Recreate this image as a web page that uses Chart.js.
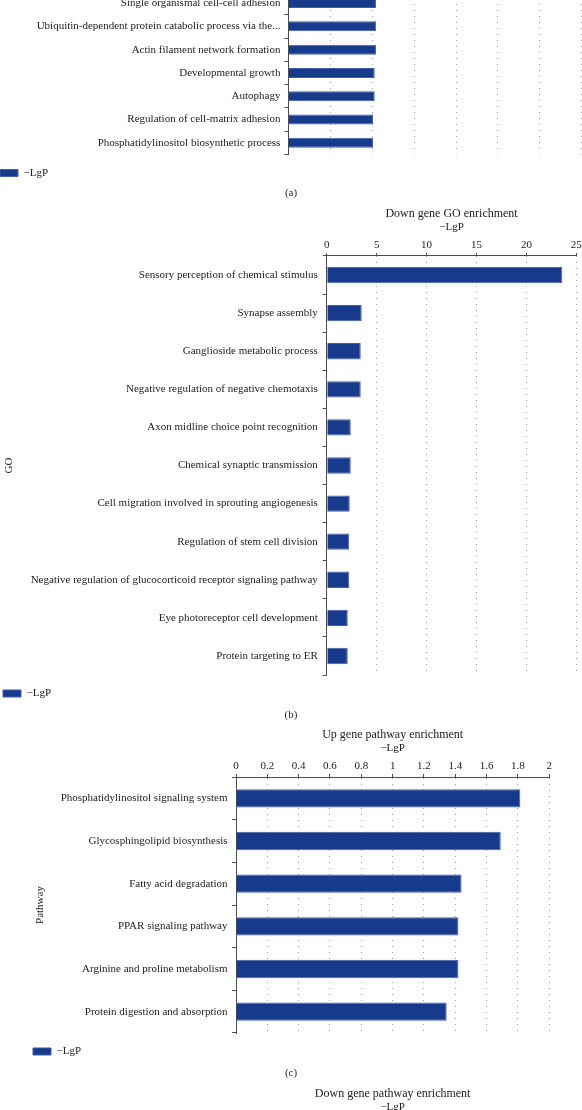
<!DOCTYPE html>
<html>
<head>
<meta charset="utf-8">
<script src="https://cdn.jsdelivr.net/npm/chart.js@4.4.0/dist/chart.umd.min.js"></script>
<style>
  html, body { margin: 0; padding: 0; width: 582px; height: 1110px; overflow: hidden; background: #fff; }
  canvas { position: absolute; }
  .cap { position: absolute; left: 0; width: 582px; height: 14px; line-height: 14px; text-align: center;
         font: 11px "Liberation Serif", serif; color: #2b2b2b; }
</style>
</head>
<body>
<canvas id="chartA"></canvas>
<div class="cap" style="top:186px">(a)</div>
<canvas id="chartB"></canvas>
<div class="cap" style="top:708px">(b)</div>
<canvas id="chartC"></canvas>
<div class="cap" style="top:1066px">(c)</div>
<canvas id="chartD"></canvas>
<script>
// (a) up gene GO enrichment - only the lower rows are inside the picture
const upGoLabels = [
  "Single organismal cell-cell adhesion",
  "Ubiquitin-dependent protein catabolic process via the...",
  "Actin filament network formation",
  "Developmental growth",
  "Autophagy",
  "Regulation of cell-matrix adhesion",
  "Phosphatidylinositol biosynthetic process"
];
const upGoValues = [2.09, 2.09, 2.09, 2.06, 2.06, 2.02, 2.02];
const upGoTicks = [0, 1, 2, 3, 4, 5, 6, 7];

// (b) down gene GO enrichment
const downGoLabels = [
  "Sensory perception of chemical stimulus",
  "Synapse assembly",
  "Ganglioside metabolic process",
  "Negative regulation of negative chemotaxis",
  "Axon midline choice point recognition",
  "Chemical synaptic transmission",
  "Cell migration involved in sprouting angiogenesis",
  "Regulation of stem cell division",
  "Negative regulation of glucocorticoid receptor signaling pathway",
  "Eye photoreceptor cell development",
  "Protein targeting to ER"
];
const downGoValues = [23.6, 3.5, 3.4, 3.4, 2.4, 2.4, 2.3, 2.25, 2.25, 2.1, 2.1];
const downGoTicks = [0, 5, 10, 15, 20, 25];

// (c) up gene pathway enrichment
const upPathLabels = [
  "Phosphatidylinositol signaling system",
  "Glycosphingolipid biosynthesis",
  "Fatty acid degradation",
  "PPAR signaling pathway",
  "Arginine and proline metabolism",
  "Protein digestion and absorption"
];
const upPathValues = [1.815, 1.69, 1.44, 1.42, 1.42, 1.345];
const upPathTicks = [0, 0.2, 0.4, 0.6, 0.8, 1, 1.2, 1.4, 1.6, 1.8, 2];

// (d) down gene pathway enrichment - only its title is inside the picture
const downPathLabels = [];
const downPathValues = [];

const BAR = "#173a8c";
const EDGE = "#3f5fa8";
const INK = "#222";
const AXIS = "#4d4d4d";
const FONT = { family: "'Liberation Serif', serif", size: 11 };
const TITLE_FONT = { family: "'Liberation Serif', serif", size: 12, weight: "normal", lineHeight: 1.1 };

const CANVAS_LEFT = -20;
const CANVAS_W = 622;
const AXIS_H = 35.1;          // height of the top x axis box
const HEAD = 13.2 + AXIS_H;   // title + axis above the plot area
const LEGEND_H = 34;

function makeChart(id, p) {
  var canvas = document.getElementById(id);
  var top = Math.floor(p.areaTop - HEAD);
  var h = Math.ceil(p.areaBottom + LEGEND_H - top);
  canvas.width = CANVAS_W;
  canvas.height = h;
  canvas.style.left = CANVAS_LEFT + "px";
  canvas.style.top = top + "px";

  var padL = p.legendX + 7;
  var padR = CANVAS_LEFT + CANVAS_W - p.areaRight;
  var yWidth = p.areaLeft - (CANVAS_LEFT + padL);

  return new Chart(canvas, {
    type: "bar",
    data: {
      labels: p.labels,
      datasets: [{
        label: "\u2212LgP",
        data: p.values,
        backgroundColor: BAR,
        borderColor: EDGE,
        borderWidth: 1,
        barPercentage: 0.43,
        categoryPercentage: 1
      }]
    },
    options: {
      indexAxis: "y",
      responsive: false,
      animation: false,
      layout: {
        padding: {
          left: padL,
          right: padR,
          top: p.areaTop - HEAD - top,
          bottom: h - (p.areaBottom + LEGEND_H - top)
        }
      },
      plugins: {
        title: { display: true, text: p.title, fullSize: false, padding: 0, font: TITLE_FONT, color: INK },
        legend: {
          position: "bottom",
          align: "start",
          labels: { boxWidth: 18, boxHeight: 7, padding: 13, font: FONT, color: INK }
        },
        tooltip: { enabled: false }
      },
      scales: {
        x: {
          position: "top",
          min: p.ticks.length ? p.ticks[0] : undefined,
          max: p.ticks.length ? p.ticks[p.ticks.length - 1] : undefined,
          afterBuildTicks: function(s) {
            if (p.ticks.length) s.ticks = p.ticks.map(function(v){ return { value: v }; });
          },
          afterFit: function(s) { s.height = AXIS_H; },
          ticks: {
            padding: 1, font: FONT, color: INK,
            callback: function(v) { return String(v); }
          },
          grid: { color: "#9a9a9a", tickColor: AXIS, tickLength: 3, tickBorderDash: [] },
          border: { color: AXIS, width: 1, dash: [1, 5] },
          title: { display: true, text: "\u2212LgP", padding: 0, font: FONT, color: INK }
        },
        y: {
          afterFit: function(s) { s.width = yWidth; },
          ticks: { padding: p.labelPad, font: FONT, color: INK, autoSkip: false },
          grid: { drawOnChartArea: false, tickLength: 4, tickColor: AXIS },
          border: { color: AXIS, width: 1 },
          title: {
            display: !!p.yTitle,
            text: p.yTitle || "",
            padding: { top: p.yTitlePad || 0, bottom: 0 },
            font: FONT,
            color: INK
          }
        }
      }
    }
  });
}

document.addEventListener("DOMContentLoaded", function(){
  makeChart("chartA", {
    labels: upGoLabels, values: upGoValues, ticks: upGoTicks,
    title: "Up gene GO enrichment",
    areaTop: -8.6, areaBottom: 154.5, areaLeft: 288.4, areaRight: 581.7,
    legendX: 0, labelPad: 4
  });
  makeChart("chartB", {
    labels: downGoLabels, values: downGoValues, ticks: downGoTicks,
    title: "Down gene GO enrichment",
    areaTop: 256, areaBottom: 675, areaLeft: 326.8, areaRight: 576.3,
    legendX: 3, labelPad: 5, yTitle: "GO", yTitlePad: 12.9
  });
  makeChart("chartC", {
    labels: upPathLabels, values: upPathValues, ticks: upPathTicks,
    title: "Up gene pathway enrichment",
    areaTop: 777, areaBottom: 1033, areaLeft: 236, areaRight: 549.3,
    legendX: 33, labelPad: 4.5, yTitle: "Pathway", yTitlePad: 13.4
  });
  makeChart("chartD", {
    labels: downPathLabels, values: downPathValues, ticks: [],
    title: "Down gene pathway enrichment",
    areaTop: 1135.5, areaBottom: 1400, areaLeft: 236, areaRight: 549.3,
    legendX: 33, labelPad: 4.5, yTitle: "Pathway", yTitlePad: 13.4
  });
});
</script>
</body>
</html>
